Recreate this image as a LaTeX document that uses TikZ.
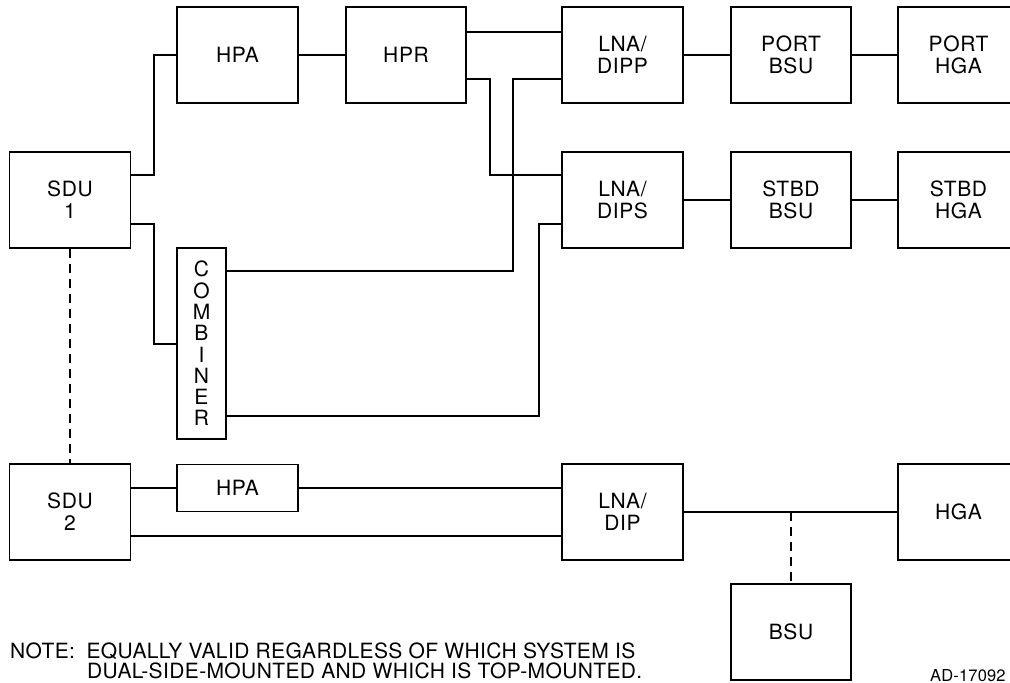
\documentclass[tikz,border=0pt]{standalone}
\usepackage{fontspec}
\setmainfont{TeX Gyre Heros}[LetterSpace=3]
\newfontfamily\adfont{TeX Gyre Heros}[LetterSpace=1]
\newfontfamily\notefont{TeX Gyre Heros}[LetterSpace=1.8]
\begin{document}
\begin{tikzpicture}[x=1pt,y=-1pt,
  blk/.style={draw,line width=1.5pt,inner sep=0pt,minimum width=121pt,minimum height=96pt,align=center,
    font=\fontsize{21}{22}\selectfont},
  wire/.style={line width=1.5pt},
  dwire/.style={line width=1.5pt,dash pattern=on 9pt off 6pt}]
\clip (0,0) rectangle (1010,683);
\fill[white] (0,0) rectangle (1010,683);
% top row
\node[blk] (hpa) at (237.5,55) {HPA};
\node[blk,minimum width=120pt] (hpr) at (406,55) {HPR};
\node[blk] (dipp) at (622.5,55) {LNA/\\DIPP};
\node[blk,minimum width=120pt] (pbsu) at (791,55) {PORT\\BSU};
\node[blk] (phga) at (958.5,55) {PORT\\HGA};
% second row
\node[blk] (sdu1) at (70,200) {SDU\\1};
\node[blk] (dips) at (622.5,200) {LNA/\\DIPS};
\node[blk,minimum width=120pt] (sbsu) at (791,200) {STBD\\BSU};
\node[blk] (shga) at (958.5,200) {STBD\\HGA};
% combiner
\node[blk,minimum width=49pt,minimum height=191pt,font=\fontsize{21}{21.3}\selectfont] (comb) at (201.5,343.5) {C\\O\\M\\B\\I\\N\\E\\R};
% bottom system
\node[blk] (sdu2) at (70,512) {SDU\\2};
\node[blk,minimum height=47pt] (hpa2) at (237.5,488) {HPA};
\node[blk] (dip) at (622.5,512) {LNA/\\DIP};
\node[blk] (hga) at (958.5,512) {HGA};
\node[blk,minimum width=120pt] (bsu) at (791,632) {BSU};
\coordinate (tap) at (791,512);
% connectors system 1
\draw[wire] (sdu1.east |- 0,175) -- (154,175) |- (hpa.west);
\draw[wire] (sdu1.east |- 0,224) -- (154,224) |- (comb.west |- 0,344);
\draw[wire] (hpa.east) -- (hpr.west);
\draw[wire] (hpr.east |- 0,32) -- (dipp.west |- 0,32);
\draw[wire] (hpr.east |- 0,79) -- (490,79) |- (dips.west |- 0,175);
\draw[wire] (comb.east |- 0,271) -- (513,271) |- (dipp.west |- 0,79);
\draw[wire] (comb.east |- 0,416) -- (539,416) |- (dips.west |- 0,224);
\draw[wire] (dipp) -- (pbsu);
\draw[wire] (pbsu) -- (phga);
\draw[wire] (dips) -- (sbsu);
\draw[wire] (sbsu) -- (shga);
% link between systems
\draw[dwire] (sdu1.south) -- (sdu2.north);
% connectors system 2
\draw[wire] (sdu2.east |- hpa2.west) -- (hpa2.west);
\draw[wire] (hpa2.east) -- (dip.west |- hpa2.east);
\draw[wire] (sdu2.east |- 0,536) -- (dip.west |- 0,536);
\draw[wire] (dip.east) -- (hga.west);
\draw[dwire] (tap) -- (bsu.north);
% notes
\node[anchor=base west,inner sep=0pt,font=\notefont\fontsize{21}{20}\selectfont] (note1) at (10,658) {NOTE:\hspace{0.55em}EQUALLY VALID REGARDLESS OF WHICH SYSTEM IS};
\node[anchor=base west,inner sep=0pt,font=\notefont\fontsize{21}{20}\selectfont] (note2) at (87,678) {DUAL-SIDE-MOUNTED AND WHICH IS TOP-MOUNTED.};
\node[anchor=base west,inner sep=0pt,font=\adfont\fontsize{16.5}{17}\selectfont] (ad) at (930,681) {AD-17092};
\end{tikzpicture}
\end{document}
